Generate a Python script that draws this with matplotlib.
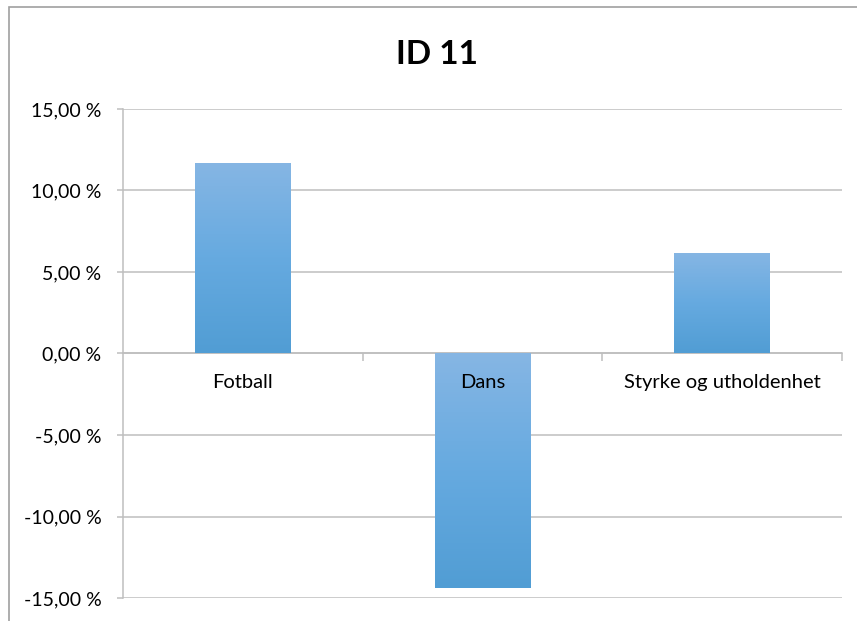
import numpy as np
import matplotlib
matplotlib.use("Agg")
import matplotlib.pyplot as plt
from matplotlib.colors import LinearSegmentedColormap
from matplotlib.patches import Rectangle
from matplotlib.ticker import FuncFormatter, MultipleLocator

plt.rcParams['font.family'] = ['Lato', 'DejaVu Sans']

# data
title = "ID 11"
categories = ["Fotball", "Dans", "Styrke og utholdenhet"]
values = [11.67, -14.37, 6.15]

W, H = 857, 621
fig = plt.figure(figsize=(W / 100, H / 100), dpi=100)

# chart area border (extends past the right/bottom edges)
fig.patches.append(Rectangle((9 / W, -0.1), 1.2, 1.1 - 7 / H,
                             transform=fig.transFigure, fill=False,
                             edgecolor="#A0A0A0", linewidth=1.2))

ax = fig.add_axes([123 / W, 1 - 598 / H, (842 - 123) / W, (598 - 109) / H])

grad_cmap = LinearSegmentedColormap.from_list(
    "xl_blue", ["#86B6E4", "#66AAE0", "#519DD4"])
gradient = np.linspace(0, 1, 256).reshape(-1, 1)

bars = ax.bar(range(len(categories)), values, width=0.4, color="none",
              edgecolor="none", zorder=1)
for bar in bars:
    x0, y0 = bar.get_x(), bar.get_y()
    bw, bh = bar.get_width(), bar.get_height()
    top, bottom = max(y0, y0 + bh), min(y0, y0 + bh)
    im = ax.imshow(gradient, cmap=grad_cmap, aspect="auto",
                   extent=[x0, x0 + bw, bottom, top], origin="upper",
                   zorder=1)
    im.set_clip_path(bar)

ax.set_xlim(-0.5, len(categories) - 0.5)
ax.set_ylim(-15, 15)

ax.yaxis.set_major_locator(MultipleLocator(5))
ax.yaxis.set_major_formatter(
    FuncFormatter(lambda v, p: f"{v:.2f}".replace(".", ",") + " %"))
ax.grid(axis="y", color="#BEBEBE", linewidth=1.1)
ax.yaxis.set_zorder(0.5)
ax.xaxis.set_zorder(3)

for s in ["top", "right"]:
    ax.spines[s].set_visible(False)
ax.spines["left"].set_color("#BEBEBE")
ax.spines["left"].set_linewidth(1.1)
ax.spines["bottom"].set_position(("data", 0))
ax.spines["bottom"].set_color("#BEBEBE")
ax.spines["bottom"].set_linewidth(1.1)
ax.spines["bottom"].set_zorder(0.6)

ax.set_xticks(range(len(categories)))
ax.set_xticklabels(categories)
ax.set_xticks(np.arange(0.5, len(categories), 1.0), minor=True)
ax.tick_params(axis="x", which="major", length=0, pad=15, labelsize=14.5,
               labelcolor="#000000")
ax.tick_params(axis="x", which="minor", length=5.5, width=1.1, color="#BEBEBE",
               direction="out")
ax.tick_params(axis="y", length=4.5, width=1.1, color="#BEBEBE", pad=11,
               labelsize=14, labelcolor="#000000")

fig.text(437 / W, 1 - 55 / H, title, ha="center", va="center",
         fontsize=24, fontweight="bold")

fig.savefig("out.png", dpi=100)
